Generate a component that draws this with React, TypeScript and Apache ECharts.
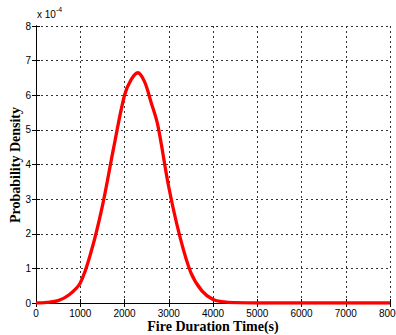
import React, { useEffect, useRef } from "react";
import * as echarts from "echarts";

const xValues = [0, 250, 500, 750, 1000, 1250, 1500, 1750, 2000, 2150, 2300, 2450, 2600, 2750, 3000, 3250, 3500, 3750, 4000, 4250, 4500, 5000, 6000, 7000, 8000];
const densityE4 = [0.0, 0.02, 0.07, 0.24, 0.58, 1.5, 2.8, 4.45, 6.0, 6.45, 6.65, 6.4, 5.8, 5.15, 3.35, 1.93, 0.88, 0.35, 0.1, 0.03, 0.01, 0, 0, 0, 0];
const xTicks = [0, 1000, 2000, 3000, 4000, 5000, 6000, 7000, 8000];
const yTicks = [0, 1, 2, 3, 4, 5, 6, 7, 8];
const xTitle = "Fire Duration Time(s)";
const yTitle = "Probability Density";

export default function App() {
  const ref = useRef<HTMLDivElement>(null);
  useEffect(() => {
    if (!ref.current) return;
    const chart = echarts.init(ref.current, null, { renderer: "svg" });
    const tickFont = { fontFamily: "Liberation Sans", fontSize: 10, color: "#000", formatter: (v: number) => String(v) };
    const gridLine = { show: true, lineStyle: { color: "#333", type: [2, 3] as any, width: 1 } };
    const frameLine = { show: true, lineStyle: { color: "#000", width: 1 } };
    const tick = { show: true, inside: true, length: 4, lineStyle: { color: "#000" } };
    chart.setOption({
      animation: false,
      backgroundColor: "#fff",
      grid: { left: 36, right: 6, top: 26, bottom: 32, show: false, containLabel: false, outerBoundsMode: "none" },
      xAxis: [
        {
          type: "value",
          min: xTicks[0],
          max: xTicks[xTicks.length - 1],
          interval: 1000,
          position: "bottom",
          axisLine: frameLine,
          axisTick: tick,
          axisLabel: { ...tickFont, margin: 5 },
          splitLine: gridLine,
        },
        {
          type: "value",
          min: xTicks[0],
          max: xTicks[xTicks.length - 1],
          interval: 1000,
          position: "top",
          axisLine: frameLine,
          axisTick: tick,
          axisLabel: { show: false },
          splitLine: { show: false },
        },
      ],
      yAxis: [
        {
          type: "value",
          min: yTicks[0],
          max: yTicks[yTicks.length - 1],
          interval: 1,
          position: "left",
          axisLine: frameLine,
          axisTick: tick,
          axisLabel: { ...tickFont, margin: 5 },
          splitLine: gridLine,
        },
        {
          type: "value",
          min: yTicks[0],
          max: yTicks[yTicks.length - 1],
          interval: 1,
          position: "right",
          axisLine: frameLine,
          axisTick: tick,
          axisLabel: { show: false },
          splitLine: { show: false },
        },
      ],
      series: [
        {
          type: "line",
          xAxisIndex: 0,
          yAxisIndex: 0,
          data: xValues.map((x, i) => [x, densityE4[i]]),
          smooth: 0.35,
          showSymbol: false,
          symbol: "none",
          lineStyle: { color: "#ff0000", width: 3.3 },
          clip: true,
        },
      ],
      graphic: [
        {
          type: "text",
          x: 37,
          y: 19,
          style: {
            text: "{a|x 10}{b|-4}",
            rich: {
              a: { fontFamily: "Liberation Sans", fontSize: 10, fill: "#000", verticalAlign: "bottom" },
              b: { fontFamily: "Liberation Sans", fontSize: 7, fill: "#000", verticalAlign: "top", padding: [0, 0, 6, 0] },
            },
            verticalAlign: "bottom",
            align: "left",
          },
        },
        {
          type: "text",
          x: 213,
          y: 326,
          style: {
            text: xTitle,
            font: "bold 14px 'Liberation Serif'",
            fill: "#000",
            align: "center",
            verticalAlign: "middle",
          },
        },
        {
          type: "text",
          x: 15,
          y: 165,
          rotation: Math.PI / 2,
          style: {
            text: yTitle,
            font: "bold 14px 'Liberation Serif'",
            fill: "#000",
            align: "center",
            verticalAlign: "middle",
          },
        },
      ],
    });
    return () => chart.dispose();
  }, []);
  return (
    <div
      ref={ref}
      style={{ position: "fixed", left: 0, top: 0, width: 396, height: 335, background: "#fff" }}
    />
  );
}
